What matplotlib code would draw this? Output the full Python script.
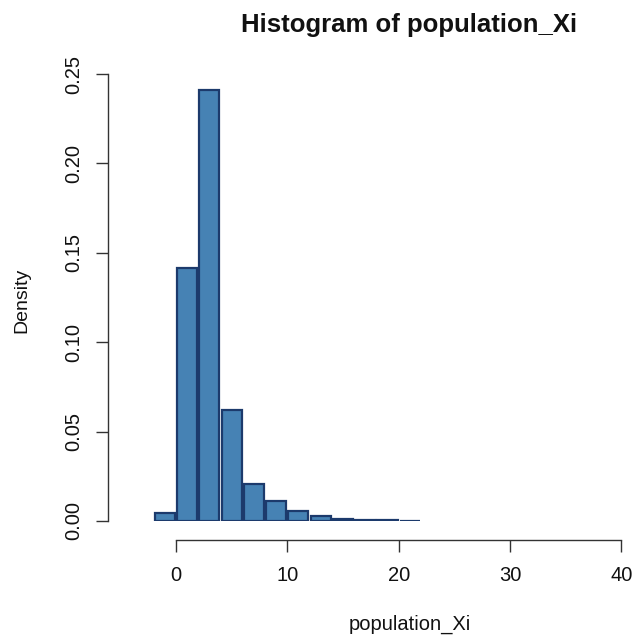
import matplotlib.pyplot as plt

plt.rcParams['font.family'] = ['Liberation Sans', 'DejaVu Sans']

# histogram bins (left edges, width 2) and density values
bin_left = [-2, 0, 2, 4, 6, 8, 10, 12, 14, 16, 18, 20]
density = [0.0045, 0.1415, 0.241, 0.062, 0.0207, 0.011, 0.0056, 0.0028,
           0.0011, 0.0004, 0.0003, 0.0002]
bin_width = 2

x_ticks = [0, 10, 20, 30, 40]
y_ticks = [0.00, 0.05, 0.10, 0.15, 0.20, 0.25]

fig = plt.figure(figsize=(6.35, 6.37), dpi=100)
ax = fig.add_axes([148 / 635, 1 - 521 / 637, 479 / 635, 447 / 637])

centers = [b + bin_width / 2 for b in bin_left]
ax.bar(centers, density, width=bin_width * 0.9, color="#4682B4",
       edgecolor="#1c3a6c", linewidth=1.6, align="center")

ax.set_xlim(-2.5, 40.5)
ax.set_ylim(0, 0.25)

for s in ["top", "right"]:
    ax.spines[s].set_visible(False)
ax.spines["left"].set_position(("outward", 28.8))
ax.spines["bottom"].set_position(("outward", 13.7))
ax.spines["left"].set_bounds(0, 0.25)
ax.spines["bottom"].set_bounds(0, 40)
for s in ["left", "bottom"]:
    ax.spines[s].set_color("#333333")
    ax.spines[s].set_linewidth(1.0)

ax.set_xticks(x_ticks)
ax.set_xticklabels([str(t) for t in x_ticks])
ax.set_yticks(y_ticks)
ax.set_yticklabels(["%.2f" % t for t in y_ticks], rotation=90, va="center")
ax.tick_params(axis="both", length=8.5, width=1.0, color="#333333",
               labelsize=14.5, labelcolor="#111111")
ax.tick_params(axis="y", pad=9)
ax.tick_params(axis="x", pad=10)

fig.text(409 / 635, 1 - 25 / 637, "Histogram of population_Xi", ha="center",
         va="center", fontsize=18.5, fontweight="bold", color="#111111")
fig.text(410 / 635, 1 - 624 / 637, "population_Xi", ha="center", va="center",
         fontsize=14.5, color="#111111")
fig.text(22 / 635, 1 - 300 / 637, "Density", ha="center", va="center",
         rotation=90, fontsize=14, color="#111111")

fig.savefig("out.png", dpi=100)
